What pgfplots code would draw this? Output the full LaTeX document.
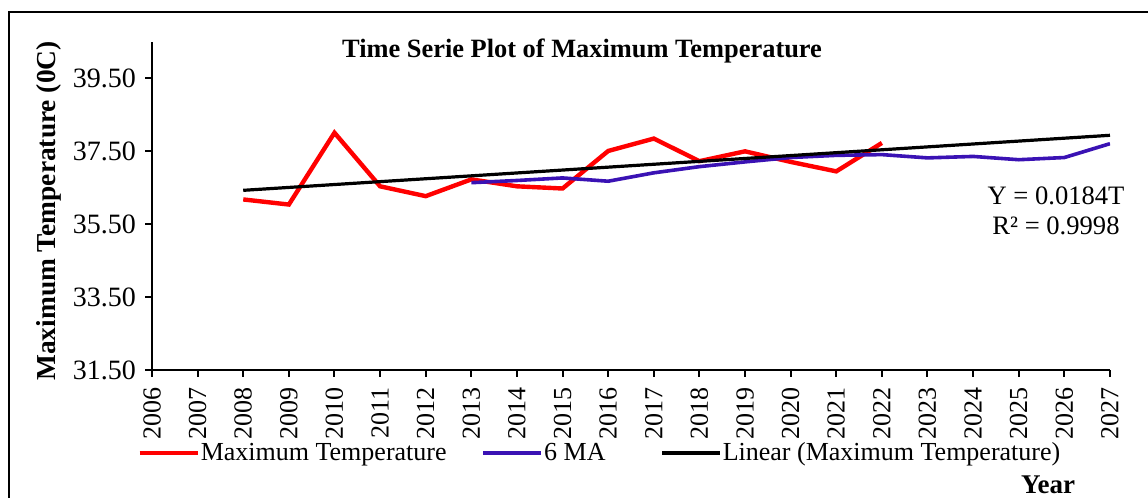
\documentclass[border=0pt]{standalone}
\usepackage{fontspec}
\setmainfont{Liberation Serif}
\usepackage{pgfplots}
\pgfplotsset{compat=1.18}
\definecolor{maBlue}{RGB}{58,18,180}
\begin{document}
\begin{tikzpicture}[x=1pt,y=1pt]
\useasboundingbox (0,0) rectangle (574,249);
\draw[line width=0.8pt] (4.5,0) -- (4.5,243) -- (574,243);
\begin{axis}[
  at={(76pt,64pt)}, anchor=south west, scale only axis,
  width=479pt, height=164pt,
  xmin=2006, xmax=2027, ymin=31.5, ymax=40.5,
  axis x line*=bottom, axis y line*=left,
  axis line style={-, line width=1pt},
  xtick={2006,...,2027}, ytick={31.5,33.5,35.5,37.5,39.5},
  tick align=outside, major tick length=3.5pt,
  tick style={black, line width=1pt},
  /pgf/number format/assume math mode=true,
  xticklabel style={rotate=90, anchor=east, xshift=-1.5pt, font=\fontsize{13}{15}\selectfont, /pgf/number format/1000 sep={}},
  yticklabel style={xshift=-1pt, font=\fontsize{14}{16}\selectfont, /pgf/number format/.cd, fixed, fixed zerofill, precision=2},
  legend columns=3,
  legend cell align=left,
  legend style={at={(-0.0157,-0.253)}, anchor=west, draw=none, fill=none,
    font=\fontsize{13}{15}\selectfont, inner sep=0pt,
    nodes={inner sep=0.5pt},
    /tikz/column 2/.style={column sep=17pt},
    /tikz/column 4/.style={column sep=27pt}},
  legend image code/.code={\draw[#1] (0pt,0pt) -- (29pt,0pt);},
]
\addplot[red, line width=2.2pt] coordinates {
(2008,36.18) (2009,36.04) (2010,38.01) (2011,36.54) (2012,36.27)
(2013,36.73) (2014,36.54) (2015,36.48) (2016,37.51) (2017,37.85)
(2018,37.23) (2019,37.50) (2020,37.21) (2021,36.95) (2022,37.73)};
\addlegendentry{Maximum Temperature}
\addplot[maBlue, line width=1.8pt] coordinates {
(2013,36.64) (2014,36.70) (2015,36.77) (2016,36.68) (2017,36.91)
(2018,37.08) (2019,37.21) (2020,37.33) (2021,37.39) (2022,37.41)
(2023,37.32) (2024,37.36) (2025,37.27) (2026,37.33) (2027,37.71)};
\addlegendentry{6 MA}
\addplot[black, line width=1.6pt] coordinates {(2008,36.43) (2027,37.94)};
\addlegendentry{Linear (Maximum Temperature)}
\end{axis}
\node[font=\bfseries\fontsize{13.2}{15}\selectfont] at (291,223.5) {Time Serie Plot of Maximum Temperature};
\node[rotate=90, font=\bfseries\fontsize{13.7}{15}\selectfont] at (24.5,143.5) {Maximum Temperature (0C)};
\node[align=center, font=\fontsize{13.3}{15}\selectfont] at (528,143.5) {Y = 0.0184T\\R² = 0.9998};
\node[font=\bfseries\fontsize{13.5}{15}\selectfont] at (524,6.5) {Year};
\end{tikzpicture}
\end{document}
